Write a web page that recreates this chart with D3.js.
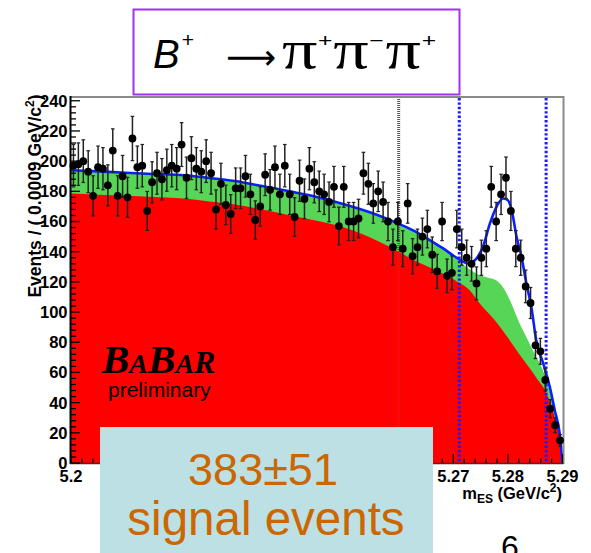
<!DOCTYPE html>
<html><head><meta charset="utf-8">
<script src="https://cdn.jsdelivr.net/npm/d3@7"></script>
<style>body{margin:0;background:#fff;overflow:hidden;} svg{display:block;}</style>
</head><body>
<script>
// ---- data ----
const binStart = 5.2, binWidth = 0.0009;
const counts = [197,198,200,193,177,196,195,184,207,177,
                190,176,215,196,197,167,186,192,188,194,
                197,195,211,189,202,195,193,200,192,168,
                185,171,165,182,182,190,178,161,170,191,
                181,196,178,197,178,163,187,175,195,186,
                180,178,173,183,157,183,160,160,162,192,
                185,172,180,173,160,143,160,142,172,137,
                143,150,155,138,127,160,124,126,155,143,
                136,132,119,136,142,183,160,178,189,167,
                142,136,117,106,78,74,55,36,25,15];

// combinatorial background (red, ARGUS)
const redMass = [5.200,5.205,5.210,5.215,5.220,5.225,5.230,5.235,5.240,5.245,5.250,5.255,5.260,5.263,5.266,5.268,5.2706,5.273,5.275,5.2775,5.2795,5.2822,5.2853,5.2871,5.2886,5.2895,5.2900];
const redVal  = [178.5,177.8,177,176.2,175.4,173.5,171.3,168,164.2,160.5,156,149,140,134,129,125.5,120.5,114.5,105,95,85.5,71.5,56,46,30,16.8,0];

// combinatorial + B background (green, stacked top)
const greenMass = [5.200,5.205,5.210,5.215,5.220,5.225,5.230,5.235,5.240,5.245,5.250,5.255,5.260,5.263,5.266,5.268,5.270,5.2715,5.2727,5.2742,5.2761,5.2779,5.2791,5.2804,5.2819,5.2834,5.2849,5.2862,5.2871,5.2886,5.2895,5.2900];
const greenVal  = [193.5,192.8,192,191.2,190.5,188.7,186.5,183.2,179.7,176,171.2,165.5,158.2,153.2,146.7,142.2,137,132.5,129,125.5,123,120.9,116.5,107.6,94.4,83.3,72.2,63.3,54.5,34,18.5,0];

// total fit (blue line)
const blueMass = [5.200,5.205,5.210,5.215,5.220,5.225,5.230,5.235,5.240,5.245,5.250,5.255,5.260,5.263,5.266,5.268,5.270,5.2715,5.2727,5.2742,5.2755,5.2767,5.2779,5.2791,5.2800,5.2807,5.2816,5.2825,5.2834,5.2843,5.2852,5.2865,5.2877,5.2886,5.2895,5.2900];
const blueVal  = [194,193.2,192.3,191.5,190.8,189,186.8,183.5,180,176.3,171.5,165.8,158.5,153.5,147,142.5,137.5,134,132.2,135.3,144,158.6,169.6,175.2,174.1,167.4,149.7,136.4,118.7,103.2,81.1,65.6,50,34.6,19.1,0];

const yTicks = [0,20,40,60,80,100,120,140,160,180,200,220,240];
const xTicks = [5.2,5.21,5.22,5.23,5.24,5.25,5.26,5.27,5.28,5.29];
const xTickLabels = ["5.2","5.21","5.22","5.23","5.24","5.25","5.26","5.27","5.28","5.29"];
const grayLineMass = [5.260];
const blueLineMass = [5.2711, 5.287];

// ---- drawing ----
const W = 591, H = 553;
const svg = d3.select("body").append("svg").attr("width", W).attr("height", H);
const x = d3.scaleLinear().domain([5.2, 5.29]).range([71, 562.5]);
const y = d3.scaleLinear().domain([0, 242.5]).range([463, 97]);
const SANS = "'Liberation Sans', Arial, sans-serif";
const boxX0 = 100, boxX1 = 433;

const toPts = (ms, vs) => ms.map((m, i) => [m, vs[i]]);

const area = d3.area().x(d => x(d[0])).y0(y(0)).y1(d => y(d[1])).curve(d3.curveMonotoneX);
svg.append("path").datum(toPts(greenMass, greenVal)).attr("d", area).attr("fill", "#56d556");
svg.append("path").datum(toPts(redMass, redVal)).attr("d", area).attr("fill", "#ff0000");

const line = d3.line().x(d => x(d[0])).y(d => y(d[1])).curve(d3.curveMonotoneX);
svg.append("path").datum(toPts(blueMass, blueVal)).attr("d", line)
  .attr("fill", "none").attr("stroke", "#0a1fff").attr("stroke-width", 2.6);

// frame (top / right gray)
svg.append("line").attr("x1", 70).attr("x2", 563.5).attr("y1", 97).attr("y2", 97).attr("stroke", "#8a8a8a").attr("stroke-width", 2);
svg.append("line").attr("x1", 563.5).attr("x2", 563.5).attr("y1", 96).attr("y2", 464).attr("stroke", "#8a8a8a").attr("stroke-width", 2);

// vertical dotted lines
svg.selectAll(".gl").data(grayLineMass).enter().append("line")
  .attr("x1", d => x(d)).attr("x2", d => x(d)).attr("y1", 99).attr("y2", 463)
  .attr("stroke", "#555").attr("stroke-width", 3).attr("stroke-dasharray", "1,1");
svg.selectAll(".bl").data(blueLineMass).enter().append("line")
  .attr("x1", d => x(d)).attr("x2", d => x(d)).attr("y1", 98).attr("y2", 463)
  .attr("stroke", "#1a1aff").attr("stroke-width", 3).attr("stroke-dasharray", "2.4,2");

// data points with error bars
const pts = counts.map((c, i) => ({ m: binStart + (i + 0.5) * binWidth, n: c }));
const g = svg.append("g");
pts.forEach(p => {
  const e = Math.sqrt(p.n);
  const cx = x(p.m);
  g.append("line").attr("x1", cx).attr("x2", cx).attr("y1", y(p.n + e)).attr("y2", y(Math.max(0, p.n - e)))
    .attr("stroke", "#222").attr("stroke-width", 1.5);
  [p.n + e, p.n - e].forEach(v => {
    g.append("line").attr("x1", cx - 1.8).attr("x2", cx + 1.8).attr("y1", y(v)).attr("y2", y(v))
      .attr("stroke", "#222").attr("stroke-width", 1.2);
  });
  g.append("circle").attr("cx", cx).attr("cy", y(p.n)).attr("r", 3.9).attr("fill", "#000");
});

// axes
svg.append("line").attr("x1", 70.5).attr("x2", 70.5).attr("y1", 96).attr("y2", 464).attr("stroke", "#000").attr("stroke-width", 2);
svg.append("line").attr("x1", 70).attr("x2", 563.5).attr("y1", 463.5).attr("y2", 463.5).attr("stroke", "#333").attr("stroke-width", 1.6);

const yMinor = d3.range(0, 241, 4);
svg.selectAll(".ymt").data(yMinor).enter().append("line")
  .attr("x1", 71).attr("x2", d => 71 + (d % 20 === 0 ? 9 : 5))
  .attr("y1", d => y(d)).attr("y2", d => y(d)).attr("stroke", "#000").attr("stroke-width", 1.3);
svg.selectAll(".ytl").data(yTicks).enter().append("text")
  .attr("x", 67.5).attr("y", d => y(d)).attr("dy", "0.36em").attr("text-anchor", "end")
  .attr("font-family", SANS).attr("font-weight", "bold").attr("font-size", 16.5).text(d => d);

const xMinor = d3.range(0, 46).map(i => 5.2 + i * 0.002);
svg.selectAll(".xmt").data(xMinor).enter().append("line")
  .attr("x1", d => x(d)).attr("x2", d => x(d))
  .attr("y1", 463).attr("y2", (d, i) => 463 - (i % 5 === 0 ? 9 : 4.5)).attr("stroke", "#000").attr("stroke-width", 1.2);
// labels that lie under the yield box are hidden in the reference, so only draw the visible ones
const xLab = xTicks.map((d, i) => ({ v: d, t: xTickLabels[i] })).filter(d => x(d.v) < boxX0 || x(d.v) > boxX1);
svg.selectAll(".xtl").data(xLab).enter().append("text")
  .attr("x", d => x(d.v)).attr("y", 482).attr("text-anchor", "middle")
  .attr("font-family", SANS).attr("font-weight", "bold").attr("font-size", 16.5)
  .text(d => d.t);

// axis titles
const yl = svg.append("text").attr("transform", "translate(41,196) rotate(-90)")
  .attr("text-anchor", "middle").attr("font-family", SANS).attr("font-weight", "bold").attr("font-size", 17.5);
yl.append("tspan").text("Events / ( 0.0009 GeV/c");
yl.append("tspan").attr("dy", -7).attr("font-size", 12).text("2");
yl.append("tspan").attr("dy", 7).text(")");

const xl = svg.append("text").attr("x", 562).attr("y", 499).attr("text-anchor", "end")
  .attr("font-family", SANS).attr("font-weight", "bold").attr("font-size", 16.5);
xl.append("tspan").text("m");
xl.append("tspan").attr("dy", 4).attr("font-size", 12).text("ES");
xl.append("tspan").attr("dy", -4).text(" (GeV/c");
xl.append("tspan").attr("dy", -7).attr("font-size", 12).text("2");
xl.append("tspan").attr("dy", 7).text(")");

// BaBar logo
const bb = svg.append("text").attr("x", 102).attr("y", 373)
  .attr("font-family", "'Liberation Serif', 'Times New Roman', serif").attr("font-weight", "bold").attr("font-style", "italic");
bb.append("tspan").attr("font-size", 41).text("B");
bb.append("tspan").attr("font-size", 28).text("A");
bb.append("tspan").attr("font-size", 41).text("B");
bb.append("tspan").attr("font-size", 28).text("A");
bb.append("tspan").attr("font-size", 32).text("R");
svg.append("text").attr("x", 108).attr("y", 397).attr("font-family", SANS).attr("font-size", 21).text("preliminary");

// title box
svg.append("rect").attr("x", 133.5).attr("y", 9.5).attr("width", 326).attr("height", 85)
  .attr("fill", "#fff").attr("stroke", "#a033f0").attr("stroke-width", 2);
const PI = "'Liberation Serif', serif";
const t1 = svg.append("text").attr("x", 153).attr("y", 68).attr("font-size", 40).attr("font-family", SANS);
t1.append("tspan").attr("font-style", "italic").text("B");
t1.append("tspan").attr("dx", 2).attr("dy", -21).attr("font-size", 21).text("+");
svg.append("text").attr("x", 226).attr("y", 69).attr("font-family", "'DejaVu Sans', sans-serif").attr("font-size", 35).text("⟶");
const t2 = svg.append("text").attr("transform", "translate(282,68) scale(1.3,1)").attr("font-size", 54).attr("font-family", PI);
t2.append("tspan").text("π");
t2.append("tspan").attr("dy", -21).attr("dx", 0.5).attr("font-size", 19).attr("font-family", SANS).text("+");
t2.append("tspan").attr("dy", 21).attr("dx", 0.5).text("π");
t2.append("tspan").attr("dy", -21).attr("dx", 0.5).attr("font-size", 19).attr("font-family", SANS).text("−");
t2.append("tspan").attr("dy", 21).attr("dx", 1.5).text("π");
t2.append("tspan").attr("dy", -21).attr("dx", 0.5).attr("font-size", 19).attr("font-family", SANS).text("+");

// signal yield box
svg.append("rect").attr("x", boxX0).attr("y", 427).attr("width", boxX1 - boxX0).attr("height", 130).attr("fill", "#bce0e4");
svg.append("text").attr("x", 263).attr("y", 485).attr("text-anchor", "middle")
  .attr("font-family", SANS).attr("font-size", 45).attr("fill", "#cc6600").text("383±51");
svg.append("text").attr("x", 266).attr("y", 535).attr("text-anchor", "middle")
  .attr("font-family", SANS).attr("font-size", 47.5).attr("fill", "#cc6600").text("signal events");

// page number (cut off at the bottom edge, as in the reference)
svg.append("text").attr("x", 510).attr("y", 558).attr("text-anchor", "middle")
  .attr("font-family", SANS).attr("font-size", 32).attr("fill", "#000").text("6");
</script>
</body></html>
